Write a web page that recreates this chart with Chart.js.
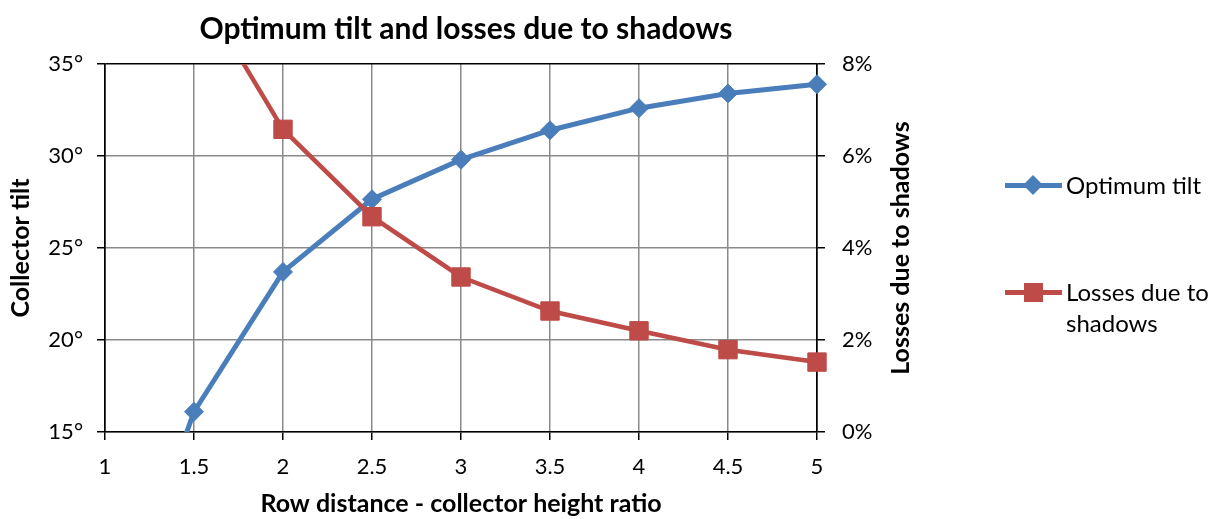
<!DOCTYPE html>
<html>
<head>
<meta charset="utf-8">
<script src="https://cdn.jsdelivr.net/npm/chart.js@4/dist/chart.umd.min.js"></script>
<style>
  html, body { margin: 0; padding: 0; background: #fff; }
  #wrap { position: relative; width: 1226px; height: 519px; font-family: Lato, sans-serif; }
  #chart-canvas { position: absolute; left: 0; top: 0; }
  #title { position: absolute; left: 0; width: 932px; top: 9px; text-align: center;
           font-weight: bold; font-size: 30px; line-height: 36px; color: #000; }
  .leg { position: absolute; left: 1005px; font-size: 24px; color: #000; }
  .leg .line { position: absolute; left: 0; width: 57px; height: 5px; }
  .leg .mark { position: absolute; }
  .leg .txt { position: absolute; left: 61px; line-height: 31px; white-space: nowrap; }
</style>
</head>
<body>
<div id="wrap">
  <canvas id="chart-canvas" width="1226" height="519"></canvas>
  <div id="title">Optimum tilt and losses due to shadows</div>
  <div class="leg" style="top:185px">
    <div class="line" style="top:-2.5px;background:#4a7ebb"></div>
    <div class="mark" style="left:21px;top:-7px;width:14px;height:14px;background:#4a7ebb;transform:rotate(45deg)"></div>
    <div class="txt" style="top:-16px">Optimum tilt</div>
  </div>
  <div class="leg" style="top:292px">
    <div class="line" style="top:-2.5px;background:#be4b48"></div>
    <div class="mark" style="left:19px;top:-9.5px;width:19px;height:19px;background:#be4b48"></div>
    <div class="txt" style="top:-16px">Losses due to<br>shadows</div>
  </div>
</div>
<script>
const canvas = document.querySelector('#chart-canvas');

// values
const ratios = [1, 1.5, 2, 2.5, 3, 3.5, 4, 4.5, 5];
const tiltDeg = [2.5, 16.1, 23.7, 27.65, 29.8, 31.4, 32.6, 33.4, 33.9];
const lossPct = [16, 9.8, 6.58, 4.68, 3.37, 2.63, 2.2, 1.79, 1.52];

const tiltTicks = [15, 20, 25, 30, 35];
const lossTicks = [0, 2, 4, 6, 8];

const BLUE = '#4a7ebb';
const RED = '#be4b48';
const GRID = '#8a8a8a';

Chart.defaults.font.family = 'Lato';
Chart.defaults.color = '#000';

const toPoints = (xs, ys) => xs.map((x, i) => ({ x: x, y: ys[i] }));

// right axis title reads bottom-to-top like the left one
const rightTitle = {
  id: 'rightTitle',
  afterDraw(chart) {
    const ctx = chart.ctx;
    const area = chart.chartArea;
    ctx.save();
    ctx.translate(901, (area.top + area.bottom) / 2);
    ctx.rotate(-Math.PI / 2);
    ctx.font = 'bold 25px Lato';
    ctx.fillStyle = '#000';
    ctx.textAlign = 'center';
    ctx.textBaseline = 'middle';
    ctx.fillText('Losses due to shadows', 0, 0);
    ctx.restore();
  }
};

let chartObject = new Chart(canvas, {
  type: 'line',
  data: {
    datasets: [{
      label: 'Losses due to shadows',
      data: toPoints(ratios, lossPct),
      yAxisID: 'y1',
      borderColor: RED,
      backgroundColor: RED,
      borderWidth: 4.5,
      pointStyle: 'rect',
      pointRadius: 13,
      pointBorderWidth: 1,
      order: 0,
      clip: { left: 0, top: 0, right: 20, bottom: 0 }
    }, {
      label: 'Optimum tilt',
      data: toPoints(ratios, tiltDeg),
      yAxisID: 'y',
      borderColor: BLUE,
      backgroundColor: BLUE,
      borderWidth: 5,
      pointStyle: 'rectRot',
      pointRadius: 9.5,
      pointBorderWidth: 1,
      order: 1,
      clip: { left: 0, top: 0, right: 20, bottom: 0 }
    }]
  },
  options: {
    animation: false,
    responsive: false,
    layout: { padding: { top: 64, right: 309, bottom: 0, left: 0 } },
    plugins: {
      legend: { display: false },
      title: { display: false },
      tooltip: { enabled: false }
    },
    scales: {
      x: {
        type: 'linear',
        min: 1,
        max: 5,
        ticks: {
          stepSize: 0.5, padding: 14, font: { size: 22 }, maxRotation: 0,
          callback: (v) => String(Math.round(v * 10) / 10)
        },
        grid: {
          color: (c) => (c.tick && (c.tick.value === 1 || c.tick.value === 5)) ? '#000' : GRID,
          lineWidth: 1.5,
          tickLength: 8,
          tickColor: '#000'
        },
        border: { color: '#000', width: 1.5 },
        title: {
          display: true,
          text: 'Row distance - collector height ratio',
          font: { size: 25, weight: 'bold' },
          padding: { top: 0, bottom: 0 }
        },
        afterFit: (s) => { s.height = 87; }
      },
      y: {
        position: 'left',
        min: 15,
        max: 35,
        afterBuildTicks: (s) => { s.ticks = tiltTicks.map(v => ({ value: v })); },
        ticks: { padding: 14, font: { size: 22 }, callback: (v) => v + '°' },
        grid: {
          color: (c) => (c.tick && c.tick.value === 35) ? '#000' : GRID,
          lineWidth: 1.5,
          tickLength: 8,
          tickColor: '#000'
        },
        border: { color: '#000', width: 1.5 },
        title: {
          display: true,
          text: 'Collector tilt',
          font: { size: 25, weight: 'bold' },
          padding: { top: 6, bottom: 0 }
        },
        afterFit: (s) => { s.width = 105; }
      },
      y1: {
        position: 'right',
        min: 0,
        max: 8,
        afterBuildTicks: (s) => { s.ticks = lossTicks.map(v => ({ value: v })); },
        ticks: { padding: 17, font: { size: 22 }, callback: (v) => v + '%' },
        grid: {
          drawOnChartArea: false,
          tickLength: 8,
          tickColor: '#000',
          lineWidth: 1.5
        },
        border: { color: '#000', width: 1.5 },
        afterFit: (s) => { s.width = 100; }
      }
    }
  },
  plugins: [rightTitle]
});
</script>
</body>
</html>
